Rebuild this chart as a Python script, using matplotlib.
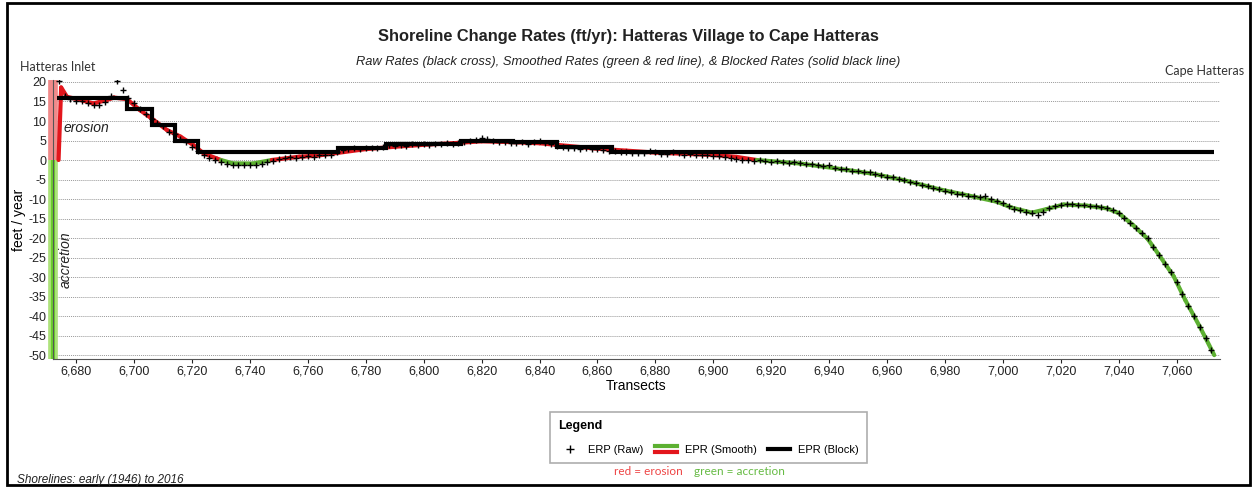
import numpy as np
import matplotlib
matplotlib.use("Agg")
import matplotlib.pyplot as plt
from matplotlib.collections import LineCollection
from matplotlib.lines import Line2D
from matplotlib.legend_handler import HandlerBase
from matplotlib.patches import Rectangle

plt.rcParams['font.family'] = ['Liberation Sans', 'DejaVu Sans']
plt.rcParams['axes.unicode_minus'] = False

# smoothed rate (transect, ft/yr)
smooth_t = [6673.9, 6674.8, 6676.8, 6681.4, 6686, 6690.6, 6693, 6697.5, 6702, 6706.7,
            6711.3, 6716, 6720.5, 6724, 6728.5, 6730, 6734, 6741, 6747.5, 6757,
            6763, 6770, 6780, 6790, 6800, 6810, 6820, 6830, 6840, 6850,
            6860, 6870, 6880, 6890, 6900, 6908, 6915, 6930, 6942, 6955,
            6966, 6978, 6990, 6998, 7003, 7010, 7015, 7021, 7029, 7036,
            7040, 7045, 7050, 7054, 7059, 7063, 7068, 7073]
smooth_v = [0, 18.6, 16.2, 15.4, 14.5, 15.4, 16.0, 15.6, 12.8, 10.3,
            7.7, 6.0, 3.8, 1.7, 0.4, 0, -0.85, -0.9, 0, 0.85,
            1.1, 1.8, 2.8, 3.4, 3.9, 4.3, 4.8, 4.6, 4.3, 3.6,
            2.9, 2.4, 1.9, 1.6, 1.3, 0.8, 0, -0.9, -2.1, -3.5,
            -5.2, -7.5, -9.4, -10.7, -12.2, -13.5, -12.6, -11.4, -11.7, -12.4,
            -13.6, -16.7, -20.2, -24.4, -29.8, -35.9, -42.7, -50.0]

# blocked rate (step edges and values)
block_edges = [6673.5, 6697.5, 6706, 6714, 6722, 6770.5, 6787, 6813, 6831, 6846, 6865, 7073]
block_vals = [16, 13, 9, 5, 2, 3, 4, 4.9, 4.5, 3.3, 2]

# raw rates, every 2nd transect from 6674
raw_start = 6674
raw_v = [20.3, 16.5, 15.6, 15.2, 15.0, 14.6, 14.0, 14.0, 14.8, 16.3,
         20.2, 18.0, 15.8, 14.5, 13.0, 11.8, 10.6, 9.4, 8.6, 7.2,
         6.6, 5.4, 4.6, 3.4, 2.2, 1.3, 0.6, 0.0, -0.6, -1.0,
         -1.3, -1.4, -1.3, -1.2, -1.3, -1.0, -0.6, -0.2, 0.3, 0.4,
         0.7, 0.6, 0.9, 1.0, 0.8, 1.3, 1.2, 1.4, 2.0, 2.6,
         2.8, 3.0, 2.9, 3.1, 3.2, 3.0, 3.4, 3.8, 3.6, 3.9,
         3.7, 4.0, 3.8, 4.1, 3.9, 4.2, 4.0, 4.3, 4.1, 4.4,
         4.6, 4.9, 5.2, 5.6, 5.3, 5.0, 4.7, 4.6, 4.4, 4.3,
         4.5, 4.2, 4.6, 4.8, 4.4, 4.0, 3.6, 3.3, 3.1, 3.2,
         2.9, 3.0, 2.7, 2.8, 2.6, 2.3, 2.4, 2.1, 2.0, 1.8,
         1.7, 1.9, 2.4, 2.0, 1.6, 1.5, 2.1, 1.8, 1.4, 1.6,
         1.3, 1.2, 1.4, 1.0, 1.1, 0.8, 0.6, 0.3, 0.1, -0.1,
         -0.3, -0.1, -0.3, -0.4, -0.3, -0.5, -0.7, -0.6, -0.8, -1.0,
         -0.9, -1.3, -1.5, -1.4, -2.0, -2.4, -2.3, -2.7, -2.8, -3.1,
         -3.0, -3.6, -3.8, -4.3, -4.4, -4.8, -5.1, -5.6, -5.9, -6.4,
         -6.6, -7.2, -7.4, -7.9, -8.1, -8.6, -8.8, -9.3, -9.3, -9.6,
         -9.2, -10.0, -10.5, -11.0, -11.8, -12.5, -12.9, -13.3, -13.6, -14.2,
         -13.2, -12.4, -11.8, -11.4, -11.2, -11.3, -11.5, -11.4, -11.7, -11.8,
         -12.0, -12.3, -12.8, -13.6, -14.8, -16.1, -17.4, -18.8, -20.0, -22.3,
         -24.4, -26.6, -28.7, -31.3, -34.4, -37.3, -40.0, -42.7, -45.6, -48.8]

RED = '#e3161c'
GREEN = '#5cb031'

fig = plt.figure(figsize=(12.57, 4.88), dpi=100)
ax = fig.add_axes([0.0422, 0.2643, 0.9284, 0.5717])

xlim = (6672, 7075)
ax.set_xlim(*xlim)
ax.set_ylim(-51, 20.5)

# erosion / accretion bars on the left edge
ax.vlines(xlim[0], 0, 20.5, color='#f08a8a', lw=7, zorder=1, clip_on=False)
ax.vlines(xlim[0], -51, 0, color='#aee27c', lw=7, zorder=1, clip_on=False)
ax.vlines(xlim[0], -51, 0, color='#6acd2c', lw=3, zorder=1, clip_on=False)

# smooth line, red when >= 0, green below
pts = np.column_stack([smooth_t, smooth_v])
segs = np.stack([pts[:-1], pts[1:]], axis=1)
mids = (np.array(smooth_v[:-1]) + np.array(smooth_v[1:])) / 2
cols = [RED if m >= 0 else GREEN for m in mids]
ax.add_collection(LineCollection(segs, colors=cols, linewidths=3, zorder=2,
                                 capstyle='round', joinstyle='round'))

raw_t = raw_start + 2 * np.arange(len(raw_v))
ax.plot(raw_t, raw_v, linestyle='none', marker='+', color='black',
        markersize=5, markeredgewidth=1.0, zorder=3)

ax.stairs(block_vals, block_edges, baseline=None, color='black', lw=3, zorder=4)

ax.set_yticks(np.arange(-50, 21, 5))
ax.set_xticks(np.arange(6680, 7061, 20))
ax.xaxis.set_major_formatter(matplotlib.ticker.FuncFormatter(lambda v, p: f'{int(v):,}'))
ax.tick_params(labelsize=9, colors='#222222', length=3, pad=2)
ax.grid(axis='y', color='#999999', linestyle=(0, (1, 1)), lw=0.7)
ax.set_axisbelow(True)
for s in ['top', 'right']:
    ax.spines[s].set_visible(False)
ax.spines['left'].set_color('#555555')
ax.spines['bottom'].set_color('#555555')

ax.set_xlabel('Transects', fontsize=10, labelpad=1)
ax.set_ylabel('feet / year', fontsize=10)
ax.yaxis.set_label_coords(-0.0235, 0.5)

ax.text(6675.5, 8.2, 'erosion', style='italic', fontsize=10, va='center', ha='left', color='#222222')
ax.text(6676.5, -25.5, 'accretion', style='italic', fontsize=10, va='center', ha='center',
        rotation=90, color='#222222')

fig.text(0.5, 0.925, 'Shoreline Change Rates (ft/yr): Hatteras Village to Cape Hatteras',
         ha='center', va='center', fontsize=11.8, fontweight='bold', color='#222222')
fig.text(0.5, 0.873, 'Raw Rates (black cross), Smoothed Rates (green & red line), & Blocked Rates (solid black line)',
         ha='center', va='center', fontsize=9.3, style='italic', color='#222222')
fig.text(0.016, 0.862, 'Hatteras Inlet', ha='left', va='center', fontsize=9,
         family=['Lato', 'DejaVu Sans'], color='#333333')
fig.text(0.99, 0.854, 'Cape Hatteras', ha='right', va='center', fontsize=9,
         family=['Lato', 'DejaVu Sans'], color='#333333')
fig.text(0.0135, 0.017, 'Shorelines: early (1946) to 2016', ha='left', va='center',
         fontsize=8.5, style='italic', color='#222222')
fig.text(0.4885, 0.033, 'red = erosion', ha='left', va='center', fontsize=8.5,
         family=['Lato', 'DejaVu Sans'], color='#ee4444')
fig.text(0.552, 0.033, 'green = accretion', ha='left', va='center', fontsize=8.5,
         family=['Lato', 'DejaVu Sans'], color='#66bb44')


class HandlerTwoLines(HandlerBase):
    def create_artists(self, legend, orig_handle, xdescent, ydescent, width, height, fontsize, trans):
        x = [-xdescent, -xdescent + width]
        top = Line2D(x, [0.9 * height - ydescent] * 2, color=GREEN, lw=3, transform=trans)
        bot = Line2D(x, [0.05 * height - ydescent] * 2, color=RED, lw=3, transform=trans)
        return [top, bot]


h_raw = Line2D([], [], linestyle='none', marker='+', color='black', markersize=6)
h_smooth = Line2D([], [], color=GREEN)
h_block = Line2D([], [], color='black', lw=3)
leg = fig.legend([h_raw, h_smooth, h_block], ['ERP (Raw)', 'EPR (Smooth)', 'EPR (Block)'],
                 handler_map={h_smooth: HandlerTwoLines()}, ncol=3, loc='upper left',
                 bbox_to_anchor=(0.4376, 0.1557), title='Legend', alignment='left',
                 fontsize=8, title_fontproperties={'weight': 'bold', 'size': 9},
                 frameon=True, fancybox=False, edgecolor='#999999', borderaxespad=0,
                 handlelength=2.0, columnspacing=1.0, handletextpad=0.7, borderpad=0.75,
                 labelspacing=1.1)
leg.get_frame().set_linewidth(1.2)

fig.add_artist(Rectangle((7 / 1257, 3 / 488), 1243 / 1257, 482 / 488, transform=fig.transFigure,
                         fill=False, edgecolor='black', lw=2))

fig.savefig('out.png', dpi=100)
